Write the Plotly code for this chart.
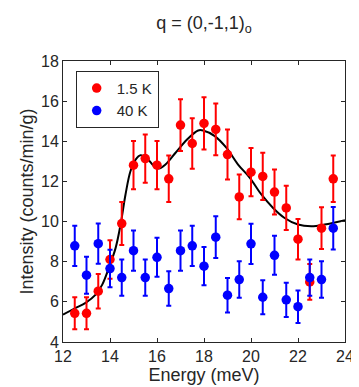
import plotly.graph_objects as go

# === data ===
energy = [12.5, 13.0, 13.5, 14.0, 14.5, 15.0, 15.5, 16.0, 16.5, 17.0, 17.5, 18.0,
          18.5, 19.0, 19.5, 20.0, 20.5, 21.0, 21.5, 22.0, 22.5, 23.0, 23.5]

i_15k = [5.43, 5.43, 6.53, 8.11, 9.90, 12.81, 13.14, 12.81, 12.13, 14.81, 13.89, 14.89,
         14.59, 13.34, 11.23, 12.46, 12.25, 11.47, 10.68, 9.12, 6.99, 9.67, 12.13]
err_15k = [0.80, 0.80, 0.86, 0.96, 1.07, 1.20, 1.20, 1.20, 1.16, 1.29, 1.26, 1.30,
           1.29, 1.25, 1.12, 1.20, 1.18, 1.12, 1.10, 1.01, 0.89, 1.04, 1.16]

i_40k = [8.79, 7.33, 8.90, 7.66, 7.21, 8.55, 7.21, 8.22, 6.66, 8.55, 8.79, 7.78,
         9.22, 6.33, 7.11, 8.89, 6.23, 8.32, 6.10, 5.76, 7.21, 7.11, 9.67]
err_40k = [1.00, 0.92, 1.00, 0.93, 0.90, 1.00, 0.90, 0.97, 0.86, 1.00, 1.00, 0.95,
           1.04, 0.86, 0.91, 1.00, 0.85, 0.97, 0.85, 0.81, 0.90, 0.91, 1.06]

# fit curve
fit_e = [12.0, 12.54, 12.96, 13.39, 13.67, 13.95, 14.24, 14.45, 14.66, 14.87, 15.09,
         15.30, 15.58, 15.87, 16.08, 16.36, 16.79, 17.28, 17.75, 17.96, 18.46, 18.95,
         19.45, 19.95, 20.44, 20.94, 21.43, 22.0, 22.57, 23.13, 24.0]
fit_i = [5.36, 5.70, 5.95, 6.36, 6.86, 7.69, 8.69, 9.85, 11.35, 12.51, 13.09,
         13.31, 13.14, 12.76, 12.64, 12.84, 13.43, 14.09, 14.54, 14.54, 14.26, 13.68,
         12.84, 12.18, 11.35, 10.68, 10.18, 9.85, 9.77, 9.85, 10.07]

x_ticks = [12, 14, 16, 18, 20, 22, 24]
y_ticks = [4, 6, 8, 10, 12, 14, 16, 18]

txt = "#262626"
font = "Liberation Sans, Arial, sans-serif"

fig = go.Figure()

# フィット曲線
fig.add_trace(go.Scatter(
    x=fit_e, y=fit_i, mode="lines", line=dict(color="black", width=2, shape="spline"),
    showlegend=False, hoverinfo="skip",
))

fig.add_trace(go.Scatter(
    x=energy, y=i_15k, mode="markers", name="1.5 K",
    marker=dict(color="#ff0000", size=9.5),
    error_y=dict(type="data", array=err_15k, color="#ff0000", thickness=2, width=2.5),
))

fig.add_trace(go.Scatter(
    x=energy, y=i_40k, mode="markers", name="40 K",
    marker=dict(color="#0000ff", size=9.5),
    error_y=dict(type="data", array=err_40k, color="#0000ff", thickness=2, width=2.5),
))

axis_common = dict(
    showline=True, linecolor="#262626", linewidth=1, mirror="ticks",
    ticks="inside", ticklen=4, tickcolor="#262626",
    showgrid=False, zeroline=False, automargin=False,
    tickfont=dict(size=16, color=txt, family=font),
)

fig.update_layout(
    width=359, height=387,
    margin=dict(l=55, r=22, t=53, b=53),
    paper_bgcolor="white", plot_bgcolor="white",
    font=dict(family=font, color=txt, size=16),
    title=dict(text="q = (0,-1,1)<sub>o</sub>", x=0.5, xref="paper", xanchor="center",
               y=0.962, yanchor="middle", font=dict(size=18, color=txt)),
    xaxis=dict(range=[12, 24], tickvals=x_ticks,
               title=dict(text="Energy (meV)", font=dict(size=18, color=txt), standoff=2),
               **axis_common),
    yaxis=dict(range=[4, 18], tickvals=y_ticks,
               title=dict(text="Intensity (counts/min/g)", font=dict(size=18, color=txt), standoff=2),
               **axis_common),
    legend=dict(x=0.045, y=0.965, xanchor="left", yanchor="top",
                bordercolor="#262626", borderwidth=1, bgcolor="white",
                font=dict(size=15, color=txt), itemwidth=30, tracegroupgap=0),
)

fig.write_html("out.html")
